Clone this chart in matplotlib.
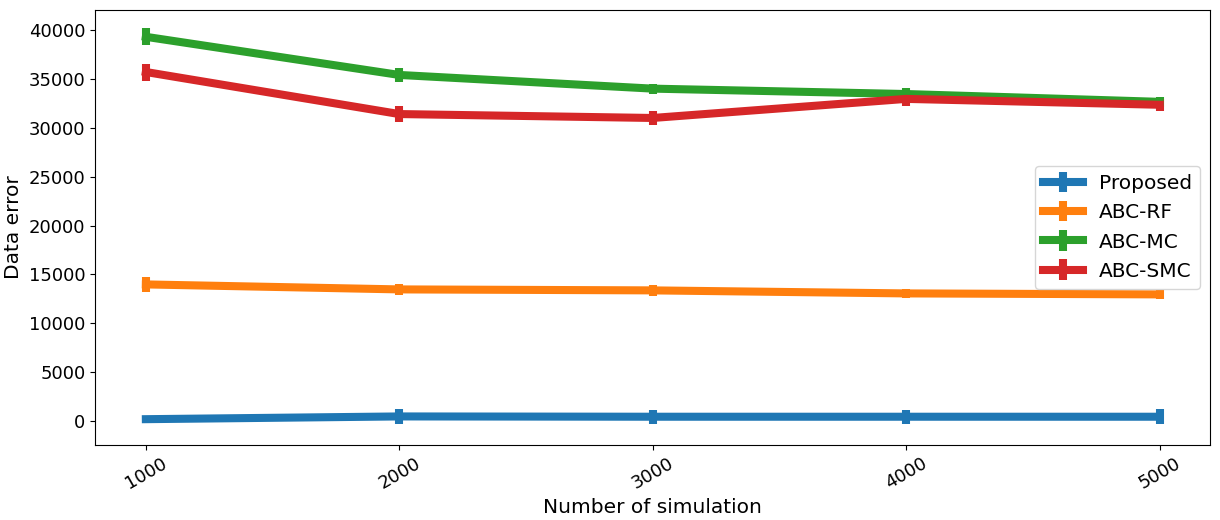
import numpy as np
import matplotlib
matplotlib.use("Agg")
import matplotlib.pyplot as plt

# number of simulations
n_sim = [1000, 2000, 3000, 4000, 5000]

# mean data error per method
proposed = [200, 480, 450, 450, 450]
abc_rf = [13980, 13470, 13370, 13060, 12960]
abc_mc = [39300, 35400, 34000, 33450, 32650]
abc_smc = [35700, 31400, 31000, 32950, 32350]

# error bar half-widths
proposed_err = [0, 750, 700, 700, 750]
abc_rf_err = [800, 600, 600, 500, 500]
abc_mc_err = [870, 700, 500, 600, 500]
abc_smc_err = [870, 800, 700, 700, 600]

labels = ["Proposed", "ABC-RF", "ABC-MC", "ABC-SMC"]

fig, ax = plt.subplots(figsize=(12.2, 5.2), dpi=100)

series = [(proposed, proposed_err), (abc_rf, abc_rf_err),
          (abc_mc, abc_mc_err), (abc_smc, abc_smc_err)]
for (y, e), lab in zip(series, labels):
	ax.errorbar(n_sim, y, yerr=e, lw=5.8, elinewidth=5.8, capsize=0, label=lab)

ax.set_xticks(n_sim)
ax.tick_params(axis='x', labelsize=13, rotation=30)
ax.tick_params(axis='y', labelsize=13)
ax.set_xlabel("Number of simulation", fontsize=14.5)
ax.set_ylabel("Data error", fontsize=14.5)
ax.set_ylim(-2400, 42000)
ax.legend(fontsize=14.5, loc='center right')

fig.subplots_adjust(left=0.078, right=0.992, top=0.98, bottom=0.145)
fig.savefig("out.png", dpi=100)
